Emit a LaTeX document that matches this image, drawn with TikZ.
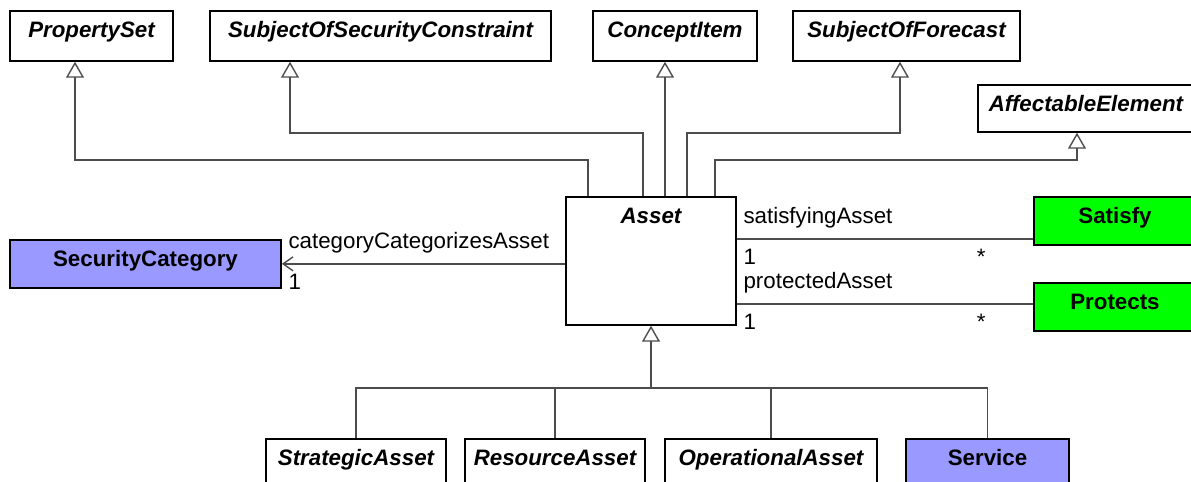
\documentclass[tikz,border=0pt]{standalone}
\usepackage{fontspec}
\setmainfont{Liberation Sans}
\usetikzlibrary{arrows.meta}
\newcommand{\dfont}{\fontsize{12.7}{15}\selectfont}
\definecolor{catblue}{HTML}{9999FF}
\definecolor{relgreen}{HTML}{00FF00}

\begin{document}
\begin{tikzpicture}[
  x=0.02cm, y=-0.02cm,
  umlclass/.style={draw, line width=1pt, anchor=north, inner xsep=0pt, inner ysep=0.2cm, text height=0.33cm, fill=white, font=\dfont\bfseries\itshape},
  concrete/.style={umlclass, font=\dfont\bfseries},
  link/.style={draw=black!70, line width=0.8pt},
  gen/.style={link, -{Triangle[open, length=0.32cm, width=0.36cm]}},
  assoc/.style={link, -{Straight Barb[length=0.2cm, width=0.28cm]}},
  role/.style={anchor=base west, inner sep=0pt, xshift=0.12cm, yshift=0.3cm, font=\dfont},
  mult/.style={anchor=base west, inner sep=0pt, xshift=0.12cm, yshift=-0.52cm, font=\dfont},
  multfar/.style={anchor=base east, inner sep=0pt, xshift=-0.94cm, yshift=-0.52cm, font=\dfont}
]
\useasboundingbox (0,0) rectangle (1191,482);

% Parent classes
\node[umlclass, minimum width=3.26cm, text depth=0.27cm] (ps) at (91.5,10) {PropertySet};
\node[umlclass, minimum width=6.82cm, text depth=0.27cm] (ssc) at (380.5,10) {SubjectOfSecurityConstraint};
\node[umlclass, minimum width=3.28cm, text depth=0.27cm] (ci) at (675,10) {ConceptItem};
\node[umlclass, minimum width=4.54cm, text depth=0.27cm] (sof) at (906.5,10) {SubjectOfForecast};
\node[umlclass, minimum width=4.32cm, text depth=0.21cm] (ae) at (1086,84) {AffectableElement};

% Asset and its associations
\node[umlclass, minimum width=3.4cm, text depth=1.83cm] (asset) at (651,196) {Asset};
\node[concrete, fill=catblue, minimum width=5.42cm, text depth=0.23cm] (seccat) at (145.5,239) {SecurityCategory};
\node[concrete, fill=relgreen, minimum width=3.24cm, text depth=0.23cm] (sat) at (1115,196) {Satisfy};
\node[concrete, fill=relgreen, minimum width=3.24cm, text depth=0.23cm] (prot) at (1115,282) {Protects};

% Subclasses
\node[umlclass, minimum width=3.6cm, text depth=0.47cm] (strat) at (356,438) {StrategicAsset};
\node[umlclass, minimum width=3.6cm, text depth=0.47cm] (res) at (555,438) {ResourceAsset};
\node[umlclass, minimum width=4.24cm, text depth=0.47cm] (opr) at (771,438) {OperationalAsset};
\node[concrete, fill=catblue, minimum width=3.26cm, text depth=0.47cm] (serv) at (987.5,438) {Service};

% Generalizations
\draw[gen] (asset.north -| 588,0) |- (75,160) -- (ps.south -| 75,0);
\draw[gen] (asset.north -| 643,0) |- (290,133) -- (ssc.south -| 290,0);
\draw[gen] (asset.north -| 665,0) -- (ci.south -| 665,0);
\draw[gen] (asset.north -| 687,0) |- (900,133) -- (sof.south -| 900,0);
\draw[gen] (asset.north -| 715,0) |- (1077,160) -- (ae.south -| 1077,0);

\coordinate (fork) at (651,388);
\draw[gen] (fork) -- (asset.south);
\draw[link] (strat.north) |- (fork);
\draw[link] (res.north) |- (fork);
\draw[link] (opr.north) |- (fork);
\draw[link] (serv.north) |- (fork);

% Associations
\draw[assoc] (asset.west |- seccat.east) -- (seccat.east)
  node[pos=1, role] {categoryCategorizesAsset} node[pos=1, mult] {1};
\draw[link] (asset.east |- 0,239) -- (sat.west |- 0,239)
  node[pos=0, role] {satisfyingAsset} node[pos=0, mult] {1} node[pos=1, multfar] {*};
\draw[link] (asset.east |- 0,304) -- (prot.west |- 0,304)
  node[pos=0, role] {protectedAsset} node[pos=0, mult] {1} node[pos=1, multfar] {*};

\end{tikzpicture}
\end{document}
